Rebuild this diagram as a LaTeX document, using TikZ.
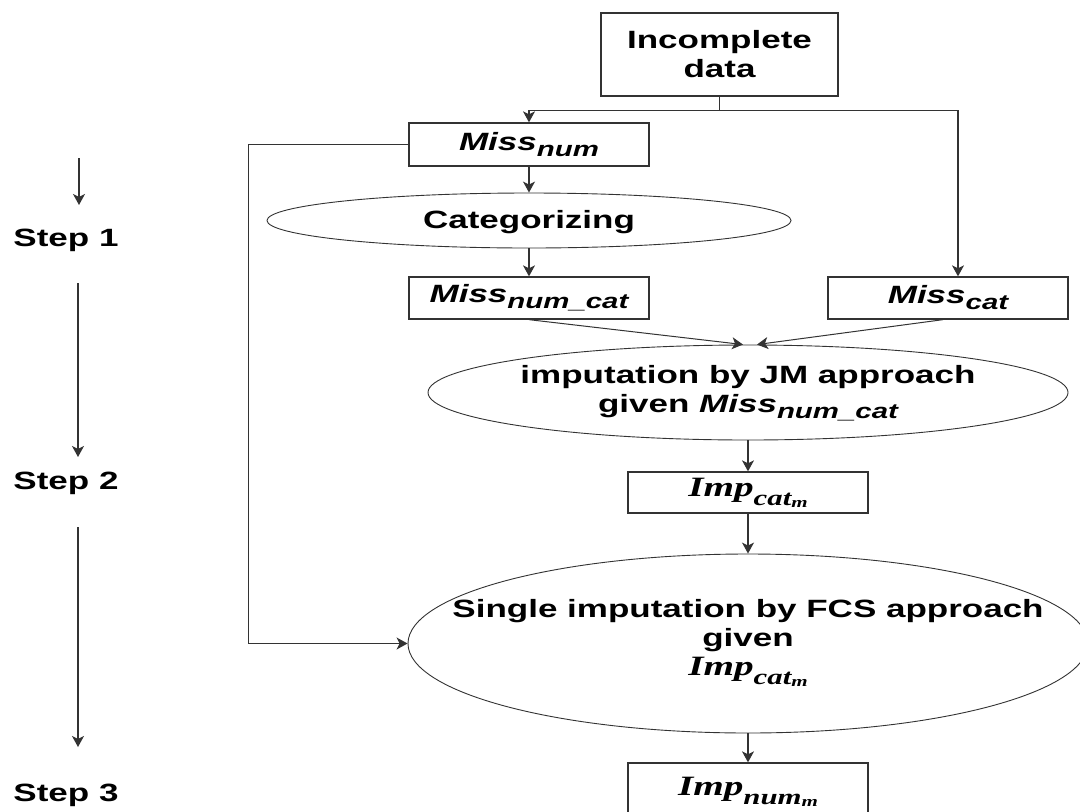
\documentclass[tikz,border=0pt]{standalone}
\usepackage{fontspec}
\setmainfont{Liberation Sans}
\newfontfamily\impf{Liberation Serif}
\usepackage{graphicx}
\usetikzlibrary{shapes.geometric,arrows.meta,calc}
\newcommand{\wid}[1]{\scalebox{1.4}[1]{#1}}
\newcommand{\missx}[1]{\textbf{\textit{Miss}}\raisebox{-6pt}{\fontsize{21}{21}\selectfont\bfseries\itshape #1}}
\newcommand{\impx}[1]{{\fontsize{28}{28}\selectfont\impf\bfseries\itshape Imp}\raisebox{-9pt}{\fontsize{22}{22}\selectfont\impf\bfseries\itshape #1\raisebox{-2pt}{\fontsize{15}{15}\selectfont m}}}
\begin{document}
\begin{tikzpicture}[x=1pt,y=-1pt,
  every node/.style={font=\fontsize{25}{29}\selectfont\bfseries, text=black},
  boxnode/.style={draw=black!80, line width=1.3pt, minimum width=240pt, inner sep=0pt, align=center},
  ell/.style={ellipse, draw=black!80, line width=0.9pt, inner sep=0pt},
  txt/.style={inner sep=0pt, align=center},
  arr/.style={-{Stealth[length=11pt,width=12pt,inset=3pt]}, line width=1.3pt, draw=black!80},
  lin/.style={line width=1.3pt, draw=black!80}]
\useasboundingbox (0,0) rectangle (1080,812);

% nodes
\node[boxnode, minimum width=237pt, minimum height=83pt] (inc) at (719.5,54.5) {\wid{Incomplete}\\\wid{data}};
\node[boxnode, minimum height=43pt] (mnum) at (529,144.5) {\wid{\missx{num}}};
\node[ell, minimum width=524pt, minimum height=55pt] (cat) at (529,220.5) {};
\node[txt] (catt) at ([yshift=-2pt]cat.center) {\wid{Categorizing}};
\node[boxnode, minimum height=42pt] (mnc) at (529,298) {\wid{\missx{num\_cat}}};
\node[boxnode, minimum height=42pt] (mcat) at (948,298) {\wid{\missx{cat}}};
\node[ell, minimum width=640pt, minimum height=95pt] (jm) at (748,392.5) {};
\node[txt] (jmt) at ([yshift=-1pt]jm.center) {\wid{imputation by JM approach}\\\wid{given \missx{num\_cat}}};
\node[boxnode, minimum height=41pt] (impc) at (748,492.5) {\wid{\impx{cat}}};
\node[ell, minimum width=680pt, minimum height=179pt] (fcs) at (748,643.5) {};
\node[txt] (fcst) at ([yshift=1pt]fcs.center) {\wid{Single imputation by FCS approach}\\\wid{given}\\\wid{\impx{cat}}};
\node[boxnode, minimum height=58pt] (impn) at (748,792) {\wid{\impx{num}}};

% step labels
\node[inner sep=0pt] (st1) at (66,240) {\wid{Step 1}};
\node[inner sep=0pt] (st2) at (66,483) {\wid{Step 2}};
\node[inner sep=0pt] (st3) at (66,795) {\wid{Step 3}};
\coordinate (a1s) at (79,158);
\coordinate (a1e) at (79,205);
\coordinate (a2s) at (78,283);
\coordinate (a2e) at (78,457);
\coordinate (a3s) at (78,527);
\coordinate (a3e) at (78,747);
\draw[arr] (a1s) -- (a1e);
\draw[arr] (a2s) -- (a2e);
\draw[arr] (a3s) -- (a3e);

% connectors
\coordinate (split) at ($(inc.south)+(0,14)$);
\draw[lin] (inc.south) -- (split);
\draw[arr] (split) -| (mnum.north);
\draw[arr] (split) -| ([xshift=10pt]mcat.north);
\draw[arr] (mnum.south) -- (cat.north);
\draw[arr] (cat.south) -- (mnc.north);
\draw[arr, line width=1pt] (mnc.south) -- ([xshift=-5pt]jm.north);
\draw[arr, line width=1pt] ([xshift=-5pt]mcat.south) -- ([xshift=9pt]jm.north);
\draw[arr] (jm.south) -- (impc.north);
\draw[arr] (impc.south) -- (fcs.north);
\draw[arr] (fcs.south) -- (impn.north);
\draw[arr] (mnum.west) -- ++(-160,0) |- (fcs.west);
\end{tikzpicture}
\end{document}
